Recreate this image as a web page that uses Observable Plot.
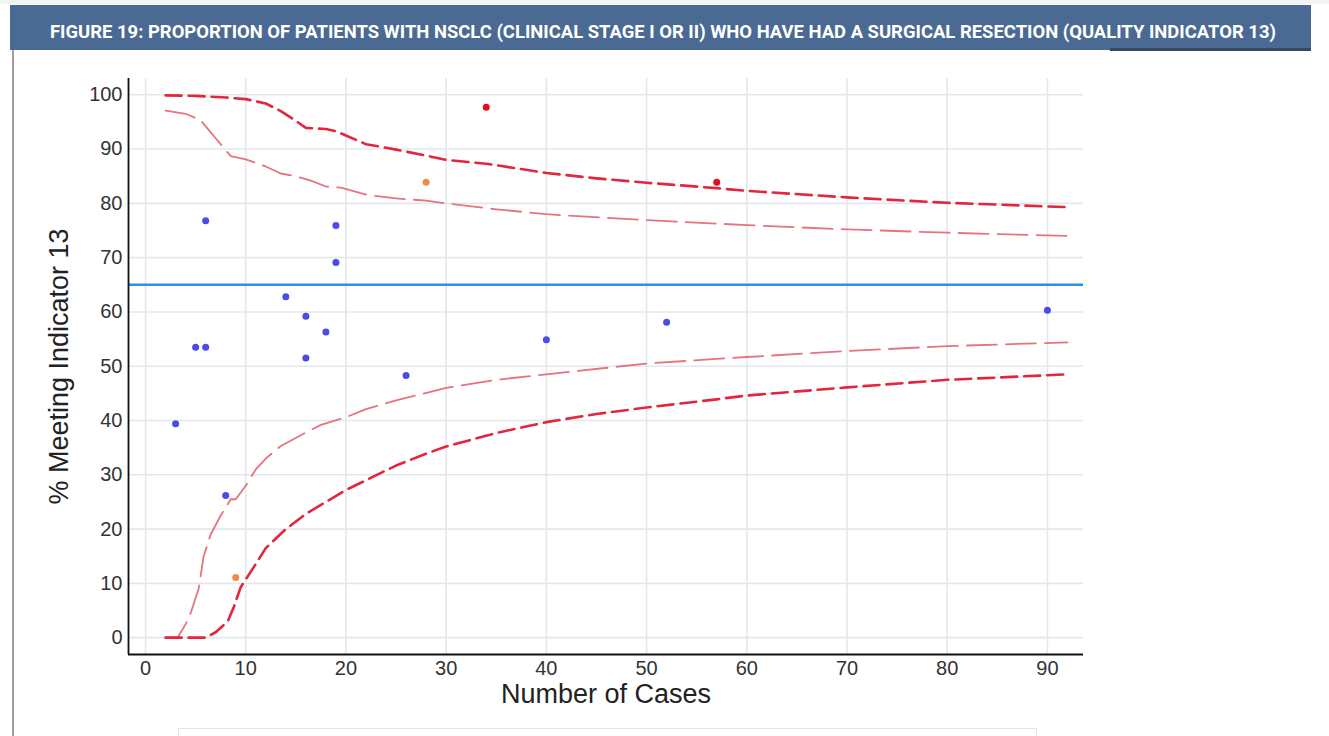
<!DOCTYPE html>
<html><head><meta charset="utf-8">
<script src="https://cdn.jsdelivr.net/npm/d3@7"></script>
<script src="https://cdn.jsdelivr.net/npm/@observablehq/plot@0.6"></script>
<style>
html,body{margin:0;padding:0;background:#fff;width:1329px;height:736px;overflow:hidden;position:relative;font-family:"Liberation Sans",Arial,sans-serif;}
#topline{position:absolute;left:0;top:0;width:1329px;height:4px;background:#f1f3f5;}
#hdr{position:absolute;left:10px;top:5px;width:1301px;height:45px;background:#4a6a93;}
#hdr svg{display:block;overflow:visible}
#shade{position:absolute;left:1110px;top:48px;width:201px;height:3px;background:#36495f;}
#border{position:absolute;left:12px;top:50px;width:2px;height:686px;background:#a0a0a0;}
#chart{position:absolute;left:0;top:55px;}
#box{position:absolute;left:178px;top:728px;width:857px;height:30px;border:1px solid #e4e4e4;}
</style></head><body>
<div id="topline"></div>
<div id="hdr"><svg width="1301" height="45"><text x="40" y="33" fill="#ffffff" font-family="Roboto, 'Liberation Sans', Arial, sans-serif" font-weight="700" font-size="18" textLength="1226" lengthAdjust="spacingAndGlyphs">FIGURE 19: PROPORTION OF PATIENTS WITH NSCLC (CLINICAL STAGE I OR II) WHO HAVE HAD A SURGICAL RESECTION (QUALITY INDICATOR 13)</text></svg></div>
<div id="shade"></div>
<div id="border"></div>
<div id="chart"></div>
<div id="box"></div>
<script>
// ---- Data ----
const xDomain = [-1.7, 93.6];
const yDomain = [-3.1, 103.0];
const xTicks = [0, 10, 20, 30, 40, 50, 60, 70, 80, 90];
const yTicks = [0, 10, 20, 30, 40, 50, 60, 70, 80, 90, 100];
const targetPct = 65;

// Hospitals: number of cases, % meeting indicator, outlier group
const hospCases = [3, 5, 6, 6, 8, 9, 14, 16, 16, 18, 19, 19, 26, 28, 34, 40, 52, 57, 90];
const hospPct   = [39.4, 53.5, 53.5, 76.8, 26.2, 11.1, 62.8, 59.2, 51.5, 56.3, 75.9, 69.1, 48.3, 83.9, 97.7, 54.9, 58.1, 83.9, 60.3];
const hospGroup = ["within","within","within","within","within","outside 95%","within","within","within","within","within","within","within","outside 95%","outside 99.8%","within","within","outside 99.8%","within"];
const groupNames  = ["within", "outside 95%", "outside 99.8%"];
const groupColors = ["#4b4be6", "#ef8a4c", "#e0101f"];

// Funnel limits
const upper998X = [2, 5, 8, 10, 12, 13.5, 15, 16, 18, 19, 20, 22, 25, 28, 30, 34, 40, 45, 50, 57, 60, 70, 80, 92];
const upper998Y = [99.9, 99.8, 99.5, 99.2, 98.4, 97, 95.2, 93.9, 93.7, 93.3, 92.5, 90.9, 89.9, 88.8, 88, 87.3, 85.6, 84.6, 83.8, 82.8, 82.3, 81.1, 80.1, 79.3];
const upper95X = [2, 4, 5.5, 7, 8.5, 10, 12, 13.5, 15, 16.5, 18, 19.5, 22, 25, 28, 30, 35, 40, 50, 60, 70, 80, 92];
const upper95Y = [97.1, 96.5, 95.3, 92, 88.7, 88.1, 86.8, 85.5, 85, 84.2, 83.1, 82.9, 81.6, 80.9, 80.5, 80, 78.9, 78, 76.9, 76, 75.2, 74.6, 74];
const lower95X = [2, 3.2, 4, 4.5, 5.3, 5.8, 6.5, 7.5, 8.5, 9, 10, 11, 12, 13.5, 15.5, 17.5, 20, 22, 25, 30, 35, 40, 50, 60, 70, 80, 92];
const lower95Y = [0, 0, 2.5, 4.5, 9, 15, 19, 22.5, 25.5, 25.5, 28, 31, 33, 35.3, 37.3, 39.2, 40.6, 42.1, 43.7, 46, 47.5, 48.5, 50.5, 51.7, 52.8, 53.7, 54.4];
const lower998X = [2, 6, 7, 8.2, 8.8, 9.5, 10.8, 12, 14, 16, 18, 20, 22, 25, 28, 30, 35, 40, 45, 50, 57, 60, 70, 80, 92];
const lower998Y = [0, 0, 1, 3, 5.6, 9.3, 13, 16.5, 20, 22.8, 25, 27.2, 29, 31.7, 33.9, 35.2, 37.7, 39.7, 41.2, 42.4, 43.9, 44.6, 46.1, 47.5, 48.5];

const xLabel = "Number of Cases";
const yLabel = "% Meeting Indicator 13";

// ---- Build tables ----
const hospitals = hospCases.map((n, i) => ({n, pct: hospPct[i], group: hospGroup[i]}));
const toRows = (xs, ys) => xs.map((x, i) => ({x, y: ys[i]}));
const u998 = toRows(upper998X, upper998Y);
const u95 = toRows(upper95X, upper95Y);
const l95 = toRows(lower95X, lower95Y);
const l998 = toRows(lower998X, lower998Y);

const outerStyle = {x: "x", y: "y", stroke: "#e3263d", strokeWidth: 2.6, strokeDasharray: "16,7"};
const innerStyle = {x: "x", y: "y", stroke: "#e6737e", strokeWidth: 1.8, strokeDasharray: "30,9"};

const chart = Plot.plot({
  width: 1329,
  height: 681,
  marginTop: 23,
  marginBottom: 82,
  marginLeft: 128,
  marginRight: 246,
  x: {domain: xDomain},
  y: {domain: yDomain},
  color: {domain: groupNames, range: groupColors},
  style: {fontFamily: "'Liberation Sans', Arial, sans-serif", color: "#333", background: "transparent", overflow: "visible"},
  marks: [
    Plot.gridX(xTicks, {stroke: "#e3e8ed", strokeOpacity: 1, strokeWidth: 1.6}),
    Plot.gridY(yTicks, {stroke: "#e3e8ed", strokeOpacity: 1, strokeWidth: 1.6}),
    Plot.ruleY([targetPct], {stroke: "#2f8de4", strokeWidth: 2.5}),
    Plot.line(u95, innerStyle),
    Plot.line(l95, innerStyle),
    Plot.line(u998, outerStyle),
    Plot.line(l998, outerStyle),
    Plot.dot(hospitals, {x: "n", y: "pct", fill: "group", r: 3.5, stroke: null}),
    Plot.ruleX([xDomain[0]], {stroke: "#111", strokeWidth: 1.8}),
    Plot.ruleY([yDomain[0]], {stroke: "#111", strokeWidth: 1.8}),
    Plot.axisX(xTicks, {tickSize: 0, tickPadding: 6, fontSize: 20, label: null}),
    Plot.axisY(yTicks, {tickSize: 0, tickPadding: 6, fontSize: 20, label: null}),
    Plot.text([xLabel], {text: d => d, frameAnchor: "bottom", lineAnchor: "middle", textAnchor: "middle", dy: 40, fontSize: 27, fill: "#222"}),
    Plot.text([yLabel], {text: d => d, frameAnchor: "left", lineAnchor: "middle", textAnchor: "middle", rotate: -90, dx: -69.5, fontSize: 27, fill: "#222"})
  ]
});
document.getElementById("chart").appendChild(chart);
</script>
</body></html>
